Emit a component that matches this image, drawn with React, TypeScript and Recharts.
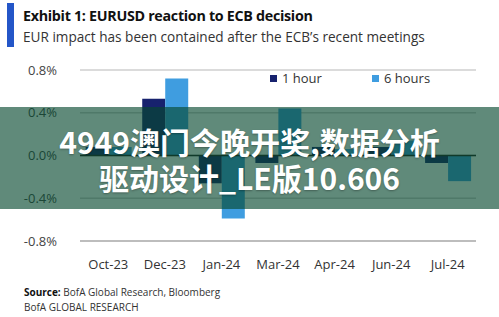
import React from 'react';
import { BarChart, Bar, XAxis, YAxis, CartesianGrid, ReferenceLine } from 'recharts';

const categories = ['Oct-23', 'Dec-23', 'Jan-24', 'Mar-24', 'Apr-24', 'Jun-24', 'Jul-24'];
const oneHour = [0.08, 0.53, -0.26, -0.07, 0.08, 0.08, -0.07];
const sixHours = [0.08, 0.72, -0.59, 0.44, 0.06, 0.14, -0.24];
const yTicks = [-0.8, -0.4, 0, 0.4, 0.8];
const seriesNames = ['1 hour', '6 hours'];

const data = categories.map((c, i) => ({ name: c, h1: oneHour[i], h6: sixHours[i] }));

const NAVY = '#17226e';
const BLUE = '#3f9de0';
const FONT = '"Open Sans", "Noto Sans", sans-serif';

const fmt = (v: number) => `${v.toFixed(1)}%`;

export default function App() {
  return (
    <div style={{ position: 'absolute', left: 0, top: 0, width: 499, height: 317, background: '#fff', overflow: 'hidden' }}>
      <div style={{ position: 'absolute', left: 7, top: 3, width: 7, height: 44, background: '#2456c8' }} />
      <div style={{ position: 'absolute', left: 23, top: 6, fontFamily: FONT, fontWeight: 700, fontSize: 14.3, color: '#111', letterSpacing: -0.3, whiteSpace: 'nowrap' }}>
        Exhibit 1: EURUSD reaction to ECB decision
      </div>
      <div style={{ position: 'absolute', left: 23, top: 27, fontFamily: FONT, fontSize: 13.6, color: '#333', whiteSpace: 'nowrap' }}>
        EUR impact has been contained after the ECB’s recent meetings
      </div>
      <div style={{ position: 'absolute', left: 0, top: 0 }}>
        <BarChart width={499} height={317} data={data} margin={{ top: 70, right: 23, bottom: 46, left: 0 }} barCategoryGap="10%" barGap={0}>
          <CartesianGrid horizontal vertical={false} stroke="#cfcfcf" strokeWidth={1.5} />
          <XAxis dataKey="name" axisLine={false} tickLine={false} tickMargin={13} height={30} tick={{ fill: '#333', fontSize: 13, fontFamily: FONT }} interval={0} />
          <YAxis domain={[-0.8, 0.8]} ticks={yTicks} tickFormatter={fmt} axisLine={false} tickLine={false} tickMargin={17} width={80} tick={{ fill: '#444', fontSize: 13, fontFamily: FONT }} />
          <ReferenceLine y={0} stroke="#222" strokeWidth={1.5} />
          <ReferenceLine y={-0.8} stroke="#bdbdbd" strokeWidth={2} />
          <Bar dataKey="h1" name={seriesNames[0]} fill={NAVY} isAnimationActive={false} />
          <Bar dataKey="h6" name={seriesNames[1]} fill={BLUE} isAnimationActive={false} />
        </BarChart>
      </div>
      <div style={{ position: 'absolute', left: 270, top: 69, display: 'flex', fontFamily: FONT, fontSize: 13, color: '#333', whiteSpace: 'nowrap' }}>
        <div style={{ display: 'flex', alignItems: 'center', width: 102 }}>
          <span style={{ width: 7, height: 7, background: NAVY, display: 'inline-block', marginRight: 5 }} />
          {seriesNames[0]}
        </div>
        <div style={{ display: 'flex', alignItems: 'center' }}>
          <span style={{ width: 7, height: 7, background: BLUE, display: 'inline-block', marginRight: 5 }} />
          {seriesNames[1]}
        </div>
      </div>
      <div style={{ position: 'absolute', left: 24, top: 285, fontFamily: FONT, fontSize: 10, color: '#333', whiteSpace: 'nowrap' }}>
        <b style={{ color: '#111' }}>Source:</b> BofA Global Research, Bloomberg
      </div>
      <div style={{ position: 'absolute', left: 24, top: 300, fontFamily: FONT, fontSize: 10, color: '#333', whiteSpace: 'nowrap' }}>
        BofA GLOBAL RESEARCH
      </div>
      <div style={{ position: 'absolute', left: 0, top: 107, width: 499, height: 102, background: 'rgba(6,72,47,0.64)' }} />
      <div style={{ position: 'absolute', left: 0, top: 107, width: 499, height: 102, display: 'flex', flexDirection: 'column', alignItems: 'center', justifyContent: 'center', paddingTop: 2, boxSizing: 'border-box', fontFamily: '"Noto Sans CJK SC", "Noto Sans", sans-serif', fontWeight: 700, fontSize: 30, color: '#fff', lineHeight: '36px', textShadow: '0 1px 2px rgba(0,0,0,0.3)', whiteSpace: 'nowrap' }}>
        <div>4949澳门今晚开奖,数据分析</div>
        <div>驱动设计_LE版10.606</div>
      </div>
    </div>
  );
}
